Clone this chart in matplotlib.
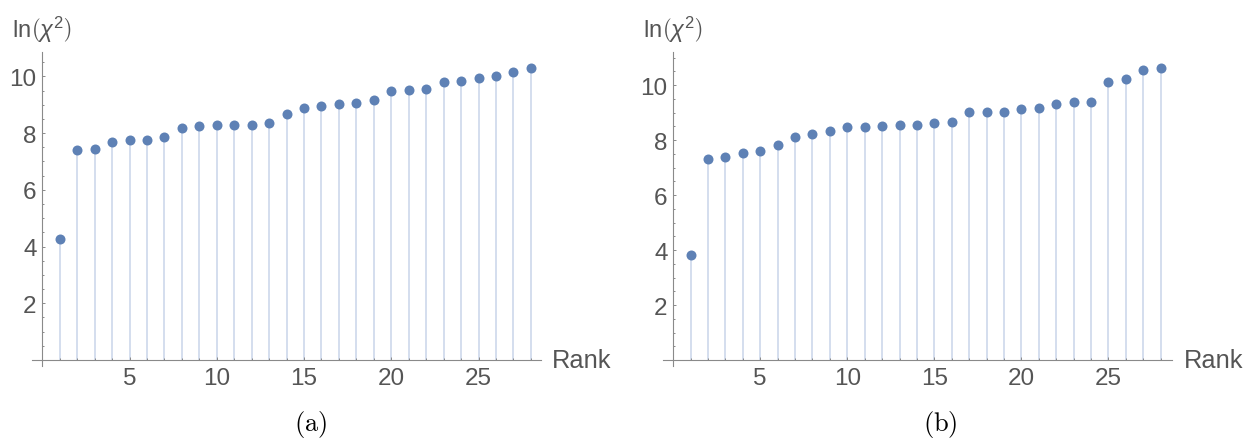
import numpy as np
import matplotlib.pyplot as plt
from matplotlib.ticker import MultipleLocator
import matplotlib.transforms as mtransforms

plt.rcParams['font.family'] = ['Liberation Sans', 'DejaVu Sans']
plt.rcParams['mathtext.fontset'] = 'custom'
plt.rcParams['mathtext.rm'] = 'Liberation Sans'
plt.rcParams['mathtext.it'] = 'Liberation Sans:italic'

# datos
rank = np.arange(1, 29)
chi_a = [4.27, 7.40, 7.45, 7.69, 7.76, 7.77, 7.88, 8.18, 8.26, 8.27,
         8.27, 8.28, 8.35, 8.68, 8.90, 8.97, 9.02, 9.08, 9.18, 9.49,
         9.53, 9.55, 9.81, 9.84, 9.93, 10.02, 10.14, 10.28]
chi_b = [3.82, 7.31, 7.38, 7.52, 7.60, 7.82, 8.10, 8.21, 8.33, 8.47,
         8.48, 8.50, 8.55, 8.56, 8.61, 8.67, 9.03, 9.02, 9.03, 9.14,
         9.15, 9.32, 9.37, 9.37, 10.10, 10.21, 10.56, 10.61]
captions = ["(a)", "(b)"]

dot_color = "#5e81b5"
stem_color = "#c9d5e9"
axis_color = "#8a8a8a"
text_color = "#555555"

W, H = 1247, 439
fig = plt.figure(figsize=(W / 100, H / 100), dpi=100)

# posiciones en pixeles: (izq, der, abajo, arriba) y limites de datos
panels = [
    (chi_a, (31.6, 540.7, 366.7, 53.3), (-0.61, 28.56), (-0.2, 10.85), 311),
    (chi_b, (663.4, 1172.4, 366.5, 53.3), (-0.56, 28.67), (-0.2, 11.19), 940),
]

for (vals, (l, r, b, t), xl, yl, cx), cap in zip(panels, captions):
    ax = fig.add_axes([l / W, 1 - b / H, (r - l) / W, (b - t) / H])
    ax.vlines(rank, 0, vals, color=stem_color, lw=1.1, zorder=1)
    ax.plot(rank, vals, "o", color=dot_color, ms=7.2, mec="none", zorder=2)
    ax.set_xlim(*xl)
    ax.set_ylim(*yl)

    for s in ["top", "right"]:
        ax.spines[s].set_visible(False)
    ax.spines["left"].set_position(("data", 0))
    ax.spines["bottom"].set_position(("data", 0))
    for s in ["left", "bottom"]:
        ax.spines[s].set_color(axis_color)
        ax.spines[s].set_linewidth(0.8)

    ax.xaxis.set_major_locator(MultipleLocator(5))
    ax.xaxis.set_minor_locator(MultipleLocator(1))
    ax.yaxis.set_major_locator(MultipleLocator(2))
    ax.yaxis.set_minor_locator(MultipleLocator(0.5))
    ax.set_xticks([5, 10, 15, 20, 25])
    ax.set_yticks([2, 4, 6, 8, 10])
    ax.tick_params(which="both", direction="in", color=axis_color, width=0.7)
    ax.tick_params(which="major", length=2.4, labelsize=17.5, labelcolor=text_color)
    ax.tick_params(which="minor", length=1.5)
    ax.tick_params(axis="x", pad=5)
    ax.tick_params(axis="y", pad=4)

    # etiquetas de ejes
    tr = mtransforms.blended_transform_factory(ax.transData, ax.transAxes)
    ax.text(0, 1.075, r"ln$\left(\chi^2\right)$", transform=tr, ha="center",
            va="center", fontsize=17, color=text_color)
    tr2 = mtransforms.blended_transform_factory(ax.transAxes, ax.transData)
    ax.text(1.022, 0, "Rank", transform=tr2, ha="left", va="center",
            fontsize=18.3, color=text_color)

    fig.text(cx / W, 1 - 425 / H, r"$\mathrm{%s}$" % cap, ha="center", va="center",
             fontsize=19, math_fontfamily="cm", color="black")

plt.savefig("out.png", dpi=100)
plt.close()
